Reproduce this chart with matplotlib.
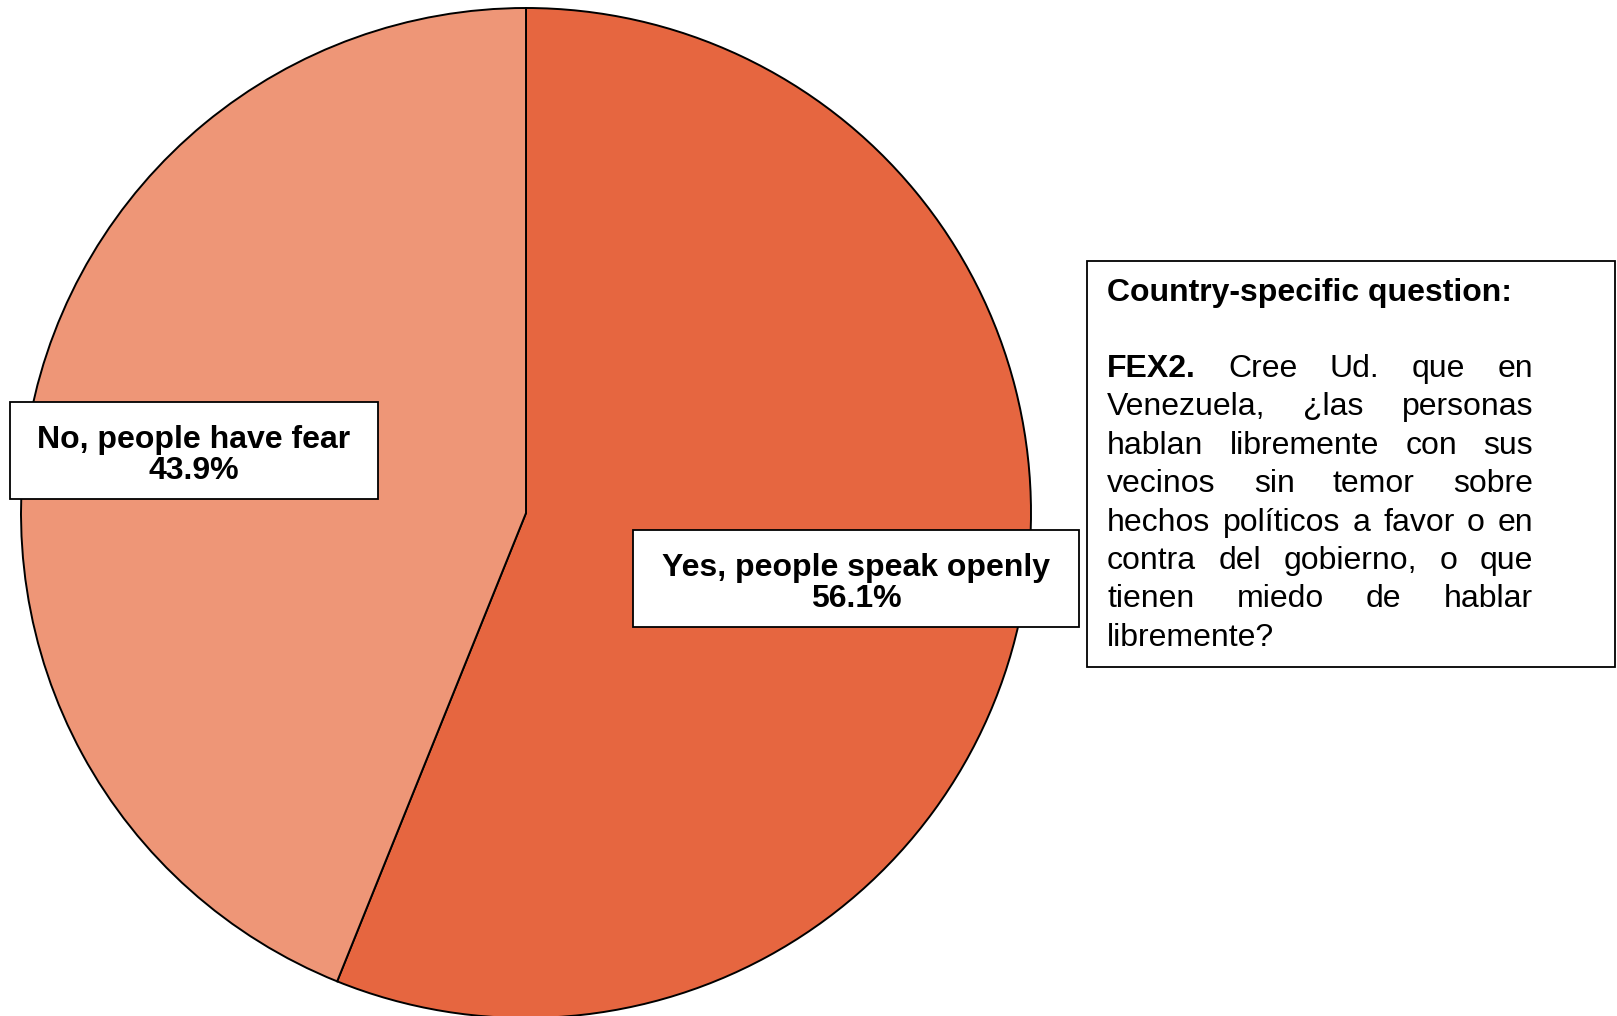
"""Pie chart: do people speak openly (Venezuela, FEX2)."""

import matplotlib

matplotlib.use("Agg")
import matplotlib.pyplot as plt
from matplotlib.patches import Rectangle

plt.rcParams["font.family"] = ["Liberation Sans", "DejaVu Sans"]

LABELS = ["Yes, people speak openly", "No, people have fear"]
VALUES = [56.1, 43.9]
COLORS = ["#E66640", "#EE9677"]

QUESTION_TITLE = "Country-specific question:"
QUESTION_LINES = [
    "FEX2. Cree Ud. que en",
    "Venezuela, ¿las personas",
    "hablan libremente con sus",
    "vecinos sin temor sobre",
    "hechos políticos a favor o en",
    "contra del gobierno, o que",
    "tienen miedo de hablar",
    "libremente?",
]

W, H = 1617, 1016


def y(px):
    return H - px


fig = plt.figure(figsize=(W / 100, H / 100), dpi=100)
ax = fig.add_axes([0, 0, 1, 1])

ax.pie(
    VALUES,
    colors=COLORS,
    startangle=90,
    counterclock=False,
    center=(526, y(513)),
    radius=505,
    wedgeprops=dict(edgecolor="black", linewidth=1.4),
    frame=True,
)
ax.set_xlim(0, W)
ax.set_ylim(0, H)
ax.set_aspect("equal")
ax.axis("off")

# label boxes (left, top, right, bottom in pixels)
boxes = {
    LABELS[0]: (633, 530, 1079, 627),
    LABELS[1]: (10, 402, 378, 499),
}
for label, value in zip(LABELS, VALUES):
    x0, t, x1, b = boxes[label]
    ax.add_patch(Rectangle((x0, y(b)), x1 - x0, b - t, facecolor="white",
                           edgecolor="black", linewidth=1.3, zorder=5))
    ax.text((x0 + x1) / 2, y((t + b) / 2 + 5), f"{label}\n{value:.1f}%", ha="center",
            va="center", fontsize=23, fontweight="bold", linespacing=1.08, zorder=6)

# question box
qx0, qt, qx1, qb = 1087, 261, 1615, 667
ax.add_patch(Rectangle((qx0, y(qb)), qx1 - qx0, qb - qt, facecolor="white",
                       edgecolor="black", linewidth=1.3, zorder=5))
text_left, text_right = 1107, 1533
fs = 23
ax.text(text_left, y(301), QUESTION_TITLE, ha="left", va="baseline", fontsize=fs,
        fontweight="bold", zorder=6)

renderer = fig.canvas.get_renderer()
line_gap = 38.4
base = 377
for i, line in enumerate(QUESTION_LINES):
    words = line.split(" ")
    yy = y(base + i * line_gap)
    arts = []
    for w in words:
        weight = "bold" if w == "FEX2." else "normal"
        arts.append(ax.text(0, yy, w, ha="left", va="baseline", fontsize=fs,
                            fontweight=weight, zorder=6))
    widths = [a.get_window_extent(renderer).width for a in arts]
    if i == len(QUESTION_LINES) - 1 or len(words) == 1:
        space = fs * 0.28 * 100 / 72
    else:
        space = (text_right - text_left - sum(widths)) / (len(words) - 1)
    xx = text_left
    for a, wd in zip(arts, widths):
        a.set_x(xx)
        xx += wd + space

fig.savefig("out.png", dpi=100)
plt.close("all")
